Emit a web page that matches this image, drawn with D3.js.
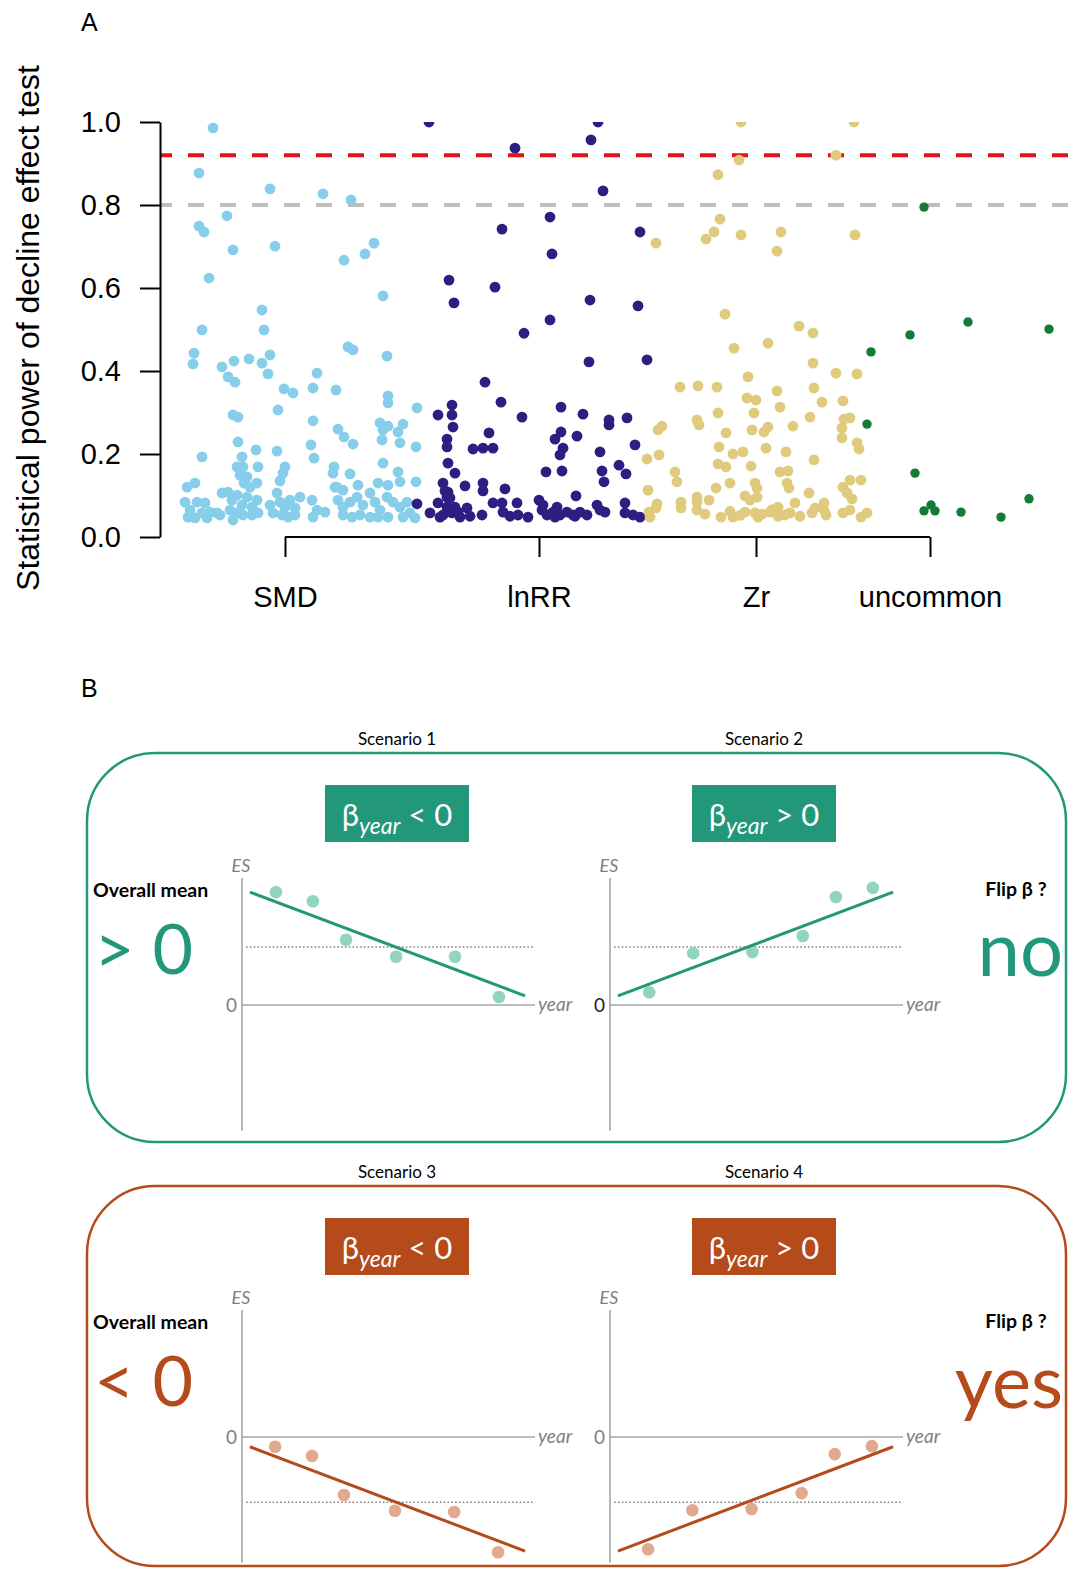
<!DOCTYPE html>
<html>
<head>
<meta charset="utf-8">
<script src="https://cdn.jsdelivr.net/npm/d3@7"></script>
<style>
  body { margin: 0; background: #fff; }
</style>
</head>
<body>
<div id="chart"></div>
<script>
// ---------- Panel A data: [jitter position, statistical power] ----------
const smdPoints = [
  [53,.986],[39,.877],[110,.839],[163,.827],[191,.812],[67,.774],[39,.749],[44,.735],[73,.692],[115,.701],
  [184,.667],[205,.682],[214,.708],[49,.624],[223,.581],[102,.547],[42,.499],[104,.499],
  [188,.458],[193,.451],[227,.436],[34,.443],[33,.417],[62,.410],[74,.424],[89,.429],[102,.419],[110,.439],
  [108,.393],[68,.386],[75,.373],[157,.395],[124,.357],[133,.347],[153,.359],[176,.354],[228,.340],[228,.323],
  [257,.311],[118,.306],[73,.294],[78,.289],[153,.280],[178,.260],[184,.241],[193,.224],[220,.275],[228,.267],
  [223,.258],[243,.272],[238,.253],[222,.234],[240,.227],[256,.217],[78,.229],[96,.210],[117,.207],[151,.222],
  [154,.190],[42,.193],[82,.193],[77,.169],[83,.169],[80,.149],[87,.145],[98,.169],[125,.169],[123,.154],
  [174,.169],[173,.154],[190,.152],[223,.178],[238,.157],[120,.135],[27,.120],[35,.130],[84,.130],[90,.120],
  [97,.130],[175,.120],[183,.113],[198,.125],[218,.130],[228,.125],[240,.133],[256,.133],
  [25,.084],[30,.065],[37,.084],[42,.058],[45,.082],[50,.060],[57,.058],[60,.053],[28,.048],[35,.046],
  [47,.046],[62,.106],[68,.108],[72,.089],[77,.101],[82,.077],[87,.096],[92,.072],[97,.089],[70,.065],
  [77,.058],[83,.053],[92,.053],[98,.058],[73,.041],[110,.077],[117,.106],[120,.084],[125,.072],[130,.089],
  [135,.070],[140,.096],[113,.058],[122,.053],[128,.048],[135,.053],[152,.089],[157,.065],[165,.060],[153,.048],
  [177,.120],[178,.089],[183,.072],[190,.084],[197,.096],[203,.077],[210,.106],[215,.084],[220,.065],[227,.096],
  [233,.084],[183,.053],[192,.048],[200,.053],[210,.048],[218,.048],[228,.048],[240,.072],[243,.048],[250,.058],
  [255,.046],[247,.084]
];
const lnrrPoints = [
  [269,1.0],[438,1.0],[355,.937],[431,.957],[443,.834],[390,.771],[342,.742],[480,.735],[392,.682],[289,.619],
  [294,.564],[335,.602],[430,.571],[478,.557],[390,.523],[364,.491],[429,.422],[487,.427],[325,.373],[341,.325],
  [292,.318],[292,.294],[278,.294],[293,.265],[362,.289],[401,.313],[423,.296],[449,.282],[449,.270],[467,.287],
  [329,.251],[287,.236],[287,.217],[313,.212],[323,.214],[333,.214],[401,.253],[395,.236],[403,.214],[400,.198],
  [417,.243],[475,.222],[440,.205],[288,.178],[295,.154],[459,.173],[466,.152],[442,.159],[444,.133],[386,.157],
  [402,.159],[283,.130],[285,.111],[290,.094],[305,.123],[323,.130],[323,.111],[345,.116],[416,.099],[257,.080],
  [379,.089],[465,.082],
  [278,.082],[270,.058],[283,.053],[292,.058],[298,.060],[307,.070],[287,.072],[295,.072],[322,.053],[333,.082],
  [342,.082],[343,.060],[357,.082],[358,.053],[368,.048],[382,.065],[387,.053],[393,.060],[400,.053],[407,.060],
  [413,.053],[420,.060],[427,.053],[440,.065],[445,.060],[465,.058],[473,.053],[480,.048],[280,.048],[383,.077],
  [397,.072],[437,.077],[287,.096],[288,.108],[300,.048],[310,.050],[350,.050],[395,.048],[415,.050]
];
const zrPoints = [
  [581,1.0],[694,1.0],[676,.92],[579,.908],[558,.873],[560,.766],[554,.735],[546,.718],[581,.728],[621,.735],
  [617,.689],[695,.728],[496,.708],[565,.537],
  [639,.508],[653,.492],[574,.455],[608,.467],[653,.419],[676,.395],[697,.393],[520,.361],[538,.364],[557,.361],
  [588,.386],[617,.352],[654,.359],[587,.335],[596,.330],[662,.325],[683,.328],[620,.313],[594,.299],[558,.299],
  [537,.282],[539,.270],[502,.267],[498,.258],[650,.289],[684,.284],[690,.287],[682,.263],[682,.239],[566,.251],
  [592,.258],[604,.253],[608,.265],[633,.267],[559,.217],[573,.200],[583,.205],[606,.214],[626,.205],[697,.227],
  [699,.212],[487,.188],[499,.198],[558,.176],[566,.169],[591,.171],[654,.186],[515,.157],[517,.133],[620,.157],
  [628,.159],[570,.130],[595,.130],[597,.118],[627,.130],[629,.118],[556,.118],[488,.113],[649,.106],[683,.120],
  [690,.137],[701,.137],[687,.106],[692,.092],[537,.096],[537,.084],[549,.089],[585,.099],[590,.089],[597,.096],
  [497,.080],[496,.070],[521,.084],[521,.070],[635,.082],[618,.072],[664,.082],
  [489,.060],[537,.065],[561,.048],[573,.048],[585,.060],[595,.058],[602,.055],[610,.060],[630,.058],[640,.050],
  [652,.058],[664,.065],[666,.053],[683,.058],[701,.048],[707,.058],[545,.055],[580,.052],[618,.050],[625,.053],
  [598,.048],[490,.048],[655,.070],[690,.065],[612,.066],[570,.062]
];
const uncommonPoints = [
  [764,.795],[711,.446],[750,.487],[808,.518],[889,.501],[707,.272],[755,.154],[869,.092],[771,.077],[764,.063],
  [775,.063],[801,.060],[841,.048]
];
const groupLabels = ['SMD', 'lnRR', 'Zr', 'uncommon'];
const groupTickPos = [125, 379, 596, 770];
const groupColors = ['#87CEEB', '#2D1F82', '#DFCA7E', '#137A38'];
const yTicks = [0, 0.2, 0.4, 0.6, 0.8, 1.0];
const refPower = [0.92, 0.8];
const refColors = ['#E3141B', '#BEBEBE'];

// ---------- Panel B data ----------
const scenarioNames = ['Scenario 1', 'Scenario 2', 'Scenario 3', 'Scenario 4'];
const scenarioSigns = ['<', '>', '<', '>'];
const scenarioYears = [
  [1.16, 2.42, 3.55, 5.26, 7.27, 8.77],
  [1.34, 2.84, 4.86, 6.58, 7.71, 8.97],
  [1.13, 2.39, 3.48, 5.22, 7.24, 8.74],
  [1.30, 2.81, 4.83, 6.54, 7.67, 8.94]
];
const scenarioES = [
  [1.85, 1.70, 1.07, 0.79, 0.79, 0.13],
  [0.21, 0.85, 0.87, 1.13, 1.77, 1.92],
  [-0.16, -0.31, -0.95, -1.21, -1.23, -1.89],
  [-1.84, -1.20, -1.18, -0.92, -0.28, -0.15]
];
const fitYears = [0.27, 9.66];
const fitES = [[1.85, 0.15], [0.15, 1.85], [-0.16, -1.87], [-1.87, -0.16]];
const meanES = [0.95, 0.95, -1.07, -1.07];
const rowMeanLabel = ['> 0', '< 0'];
const rowFlipLabel = ['no', 'yes'];

const W = 1070, H = 1571;
const svg = d3.select('#chart').append('svg')
  .attr('width', W).attr('height', H)
  .style('font-family', '"Liberation Sans", Arial, Helvetica, sans-serif');

// ================= Panel A =================
const x = d3.scaleLinear().domain([0, 910]).range([160, 1070]);
const y = d3.scaleLinear().domain([0, 1]).range([537, 122]);

svg.append('text').attr('x', 81).attr('y', 31).attr('font-size', 25).text('A');

svg.append('defs').append('clipPath').attr('id', 'plotclip')
  .append('rect').attr('x', 160).attr('y', y(1)).attr('width', 910).attr('height', 450);

// reference lines
svg.append('g').selectAll('line')
  .data(refPower)
  .join('line')
  .attr('x1', x(0)).attr('x2', x(910))
  .attr('y1', d => y(d)).attr('y2', d => y(d))
  .attr('stroke', (d, i) => refColors[i])
  .attr('stroke-width', 4)
  .attr('stroke-dasharray', '16,16')
  .attr('stroke-dashoffset', 4);

// points
const pts = svg.append('g').attr('clip-path', 'url(#plotclip)');
[smdPoints, lnrrPoints, zrPoints, uncommonPoints].forEach((set, gi) => {
  pts.append('g').selectAll('circle')
    .data(set)
    .join('circle')
    .attr('cx', d => x(d[0]))
    .attr('cy', d => y(d[1]))
    .attr('r', gi === 3 ? 4.7 : 5.4)
    .attr('fill', groupColors[gi]);
});

// y axis
const yAxis = d3.axisLeft(y).tickValues(yTicks).tickFormat(d3.format('.1f'))
  .tickSize(20).tickSizeOuter(0).tickPadding(19);
svg.append('g')
  .attr('transform', 'translate(160,0)')
  .call(yAxis)
  .call(g => g.selectAll('text').attr('font-size', 29).attr('fill', '#000')
    .attr('font-family', '"Liberation Sans", Arial, sans-serif'))
  .call(g => g.selectAll('line').attr('stroke', '#000').attr('stroke-width', 2))
  .call(g => g.select('.domain').attr('stroke', '#000').attr('stroke-width', 2));

// x axis (line spans first to last tick only)
const xAxis = d3.axisBottom(x).tickValues(groupTickPos)
  .tickFormat((d, i) => groupLabels[i]).tickSize(20).tickPadding(29);
svg.append('g')
  .attr('transform', 'translate(0,537)')
  .call(xAxis)
  .call(g => g.select('.domain').remove())
  .call(g => g.selectAll('text').attr('font-size', 29).attr('fill', '#000')
    .attr('font-family', '"Liberation Sans", Arial, sans-serif'))
  .call(g => g.selectAll('line').attr('stroke', '#000').attr('stroke-width', 2))
  .call(g => g.append('line')
    .attr('x1', x(groupTickPos[0])).attr('x2', x(groupTickPos[groupTickPos.length - 1]))
    .attr('y1', 0).attr('y2', 0)
    .attr('stroke', '#000').attr('stroke-width', 2));

svg.append('text')
  .attr('transform', 'translate(39,328) rotate(-90)')
  .attr('text-anchor', 'middle')
  .attr('font-size', 32)
  .text('Statistical power of decline effect test');

// ================= Panel B =================
svg.append('text').attr('x', 81).attr('y', 697).attr('font-size', 25).text('B');

const teal = '#22977A', tealLight = '#93D4BC';
const orange = '#B54A1B', orangeLight = '#E3A98F';
const rowColor = [teal, orange];
const rowLight = [tealLight, orangeLight];
const rowTop = [753, 1186];
const rowBottom = [1142, 1566];
const rowZero = [1005, 1437];
const colAxisX = [242, 610];
const colCenter = [397, 764];
const unit = 61;

const fontB = 'Lato, "Open Sans", sans-serif';
const gB = svg.append('g').style('font-family', fontB);

[0, 1].forEach(r => {
  gB.append('rect')
    .attr('x', 87).attr('y', rowTop[r])
    .attr('width', 979).attr('height', rowBottom[r] - rowTop[r])
    .attr('rx', 68).attr('ry', 68)
    .attr('fill', 'none').attr('stroke', rowColor[r]).attr('stroke-width', 2.5);

  gB.append('text').attr('x', 93).attr('y', rowZero[r] - 108)
    .attr('font-size', 19.5).attr('font-weight', 'bold').text('Overall mean');
  gB.append('text').attr('x', 94).attr('y', rowZero[r] - 31)
    .attr('font-size', 70).attr('fill', rowColor[r]).text(rowMeanLabel[r]);

  gB.append('text').attr('x', 1016).attr('y', rowZero[r] - 109)
    .attr('text-anchor', 'middle')
    .attr('font-size', 19.5).attr('font-weight', 'bold').text('Flip β ?');
  gB.append('text').attr('x', 1063).attr('y', rowZero[r] - 29)
    .attr('text-anchor', 'end')
    .attr('font-size', r === 0 ? 76 : 74).attr('fill', rowColor[r]).text(rowFlipLabel[r]);
});

scenarioNames.forEach((name, s) => {
  const r = Math.floor(s / 2), c = s % 2;
  const ax = colAxisX[c], zero = rowZero[r];
  const xs = d3.scaleLinear().domain([0, 10]).range([ax, ax + 293]);
  const ys = d3.scaleLinear().domain([-2.1, 2.1]).range([zero + 2.1 * unit, zero - 2.1 * unit]);

  gB.append('text').attr('x', colCenter[c]).attr('y', rowTop[r] - 8)
    .attr('text-anchor', 'middle').attr('font-size', 17).text(name);

  // beta label box
  gB.append('rect')
    .attr('x', colCenter[c] - 72).attr('y', rowTop[r] + 32)
    .attr('width', 144).attr('height', 57)
    .attr('fill', rowColor[r]);
  const bt = gB.append('text')
    .attr('x', colCenter[c]).attr('y', rowTop[r] + 73)
    .attr('text-anchor', 'middle').attr('fill', '#fff').attr('font-size', 31);
  bt.append('tspan').text('β');
  bt.append('tspan').attr('font-size', 23).attr('font-style', 'italic').attr('dy', 8).text('year');
  bt.append('tspan').attr('dy', -8).text(' ' + scenarioSigns[s] + ' 0');

  // axes
  gB.append('line')
    .attr('x1', ax).attr('x2', ax).attr('y1', ys(2.08)).attr('y2', ys(-2.06))
    .attr('stroke', '#A6A6A6').attr('stroke-width', 1.6);
  gB.append('line')
    .attr('x1', ax).attr('x2', xs(10)).attr('y1', ys(0)).attr('y2', ys(0))
    .attr('stroke', '#A6A6A6').attr('stroke-width', 1.6);
  gB.append('text').attr('x', ax - 1).attr('y', ys(2.08) - 6)
    .attr('text-anchor', 'middle').attr('font-size', 18)
    .attr('font-style', 'italic').attr('fill', '#808080').text('ES');
  gB.append('text').attr('x', ax - 5).attr('y', ys(0) + 7)
    .attr('text-anchor', 'end').attr('font-size', 19)
    .attr('fill', s === 1 ? '#222' : '#808080').text('0');
  gB.append('text').attr('x', xs(10) + 3).attr('y', ys(0) + 6)
    .attr('font-size', 19).attr('font-style', 'italic').attr('fill', '#808080').text('year');

  // mean dotted line
  gB.append('line')
    .attr('x1', xs(0.14)).attr('x2', xs(10))
    .attr('y1', ys(meanES[s])).attr('y2', ys(meanES[s]))
    .attr('stroke', '#808080').attr('stroke-width', 1.5).attr('stroke-dasharray', '1.6,2.2');

  // points
  gB.append('g').selectAll('circle')
    .data(scenarioYears[s].map((yr, i) => [yr, scenarioES[s][i]]))
    .join('circle')
    .attr('cx', d => xs(d[0])).attr('cy', d => ys(d[1]))
    .attr('r', 6.3).attr('fill', rowLight[r]);

  // fitted line
  gB.append('line')
    .attr('x1', xs(fitYears[0])).attr('y1', ys(fitES[s][0]))
    .attr('x2', xs(fitYears[1])).attr('y2', ys(fitES[s][1]))
    .attr('stroke', rowColor[r]).attr('stroke-width', 3);
});
</script>
</body>
</html>
